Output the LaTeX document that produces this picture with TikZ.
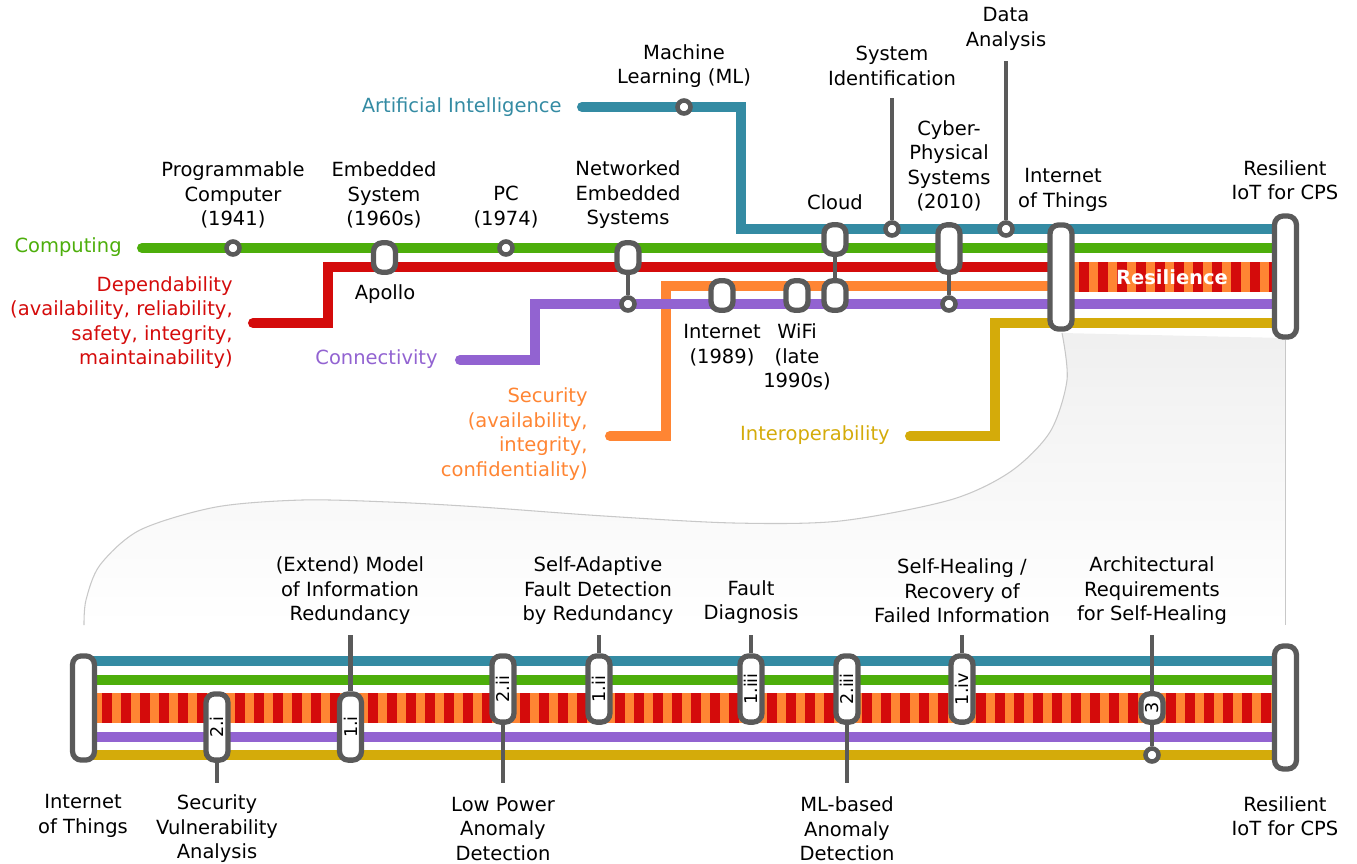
\documentclass[tikz,border=0pt]{standalone}
\usepackage{fontspec}
\setmainfont{DejaVu Sans}
\usepackage{graphicx}
\usepackage{xcolor}
\usepackage{tikz}
\usetikzlibrary{calc}
\pgfdeclarelayer{bg}
\pgfsetlayers{bg,main}
\definecolor{aicol}{HTML}{348BA3}
\definecolor{compcol}{HTML}{4DAE0B}
\definecolor{depcol}{HTML}{D40B0B}
\definecolor{seccol}{HTML}{FF8533}
\definecolor{conncol}{HTML}{9263D1}
\definecolor{interopcol}{HTML}{D4AB0A}
\definecolor{stopcol}{HTML}{5A5A5A}
\definecolor{funnelcol}{HTML}{C8C8C8}
\tikzset{
  track/.style={line width=5.7pt,line cap=round,line join=miter},
  capsule/.style={draw=stopcol,line width=3pt,fill=white,rounded corners=5pt,inner sep=0pt,minimum width=12.5pt,minimum height=#1},
  capsule/.default=16.8pt,
  stopdot/.style={circle,draw=stopcol,line width=2.6pt,fill=white,inner sep=0pt,minimum size=7.4pt},
  link/.style={draw=stopcol,line width=2.5pt},
  lbl/.style={align=center,inner sep=0pt},
  linelbl/.style={align=right,inner sep=0pt,anchor=east},
  captext/.style={font=\fontsize{10}{12}\selectfont}
}
\begin{document}
\begin{tikzpicture}[x=0.02cm,y=-0.02cm,font=\fontsize{11.1}{13.9}\selectfont]
\useasboundingbox (0,0) rectangle (1357,863);

\node[stopdot] (prog) at (233,248) {};
\node[capsule] (emb) at (384.5,257.5) {};
\node[stopdot] (pc) at (506,248) {};
\node[capsule] (nes) at (628,257.5) {};
\node[stopdot] (nesdot) at (628,304) {};
\node[stopdot] (mldot) at (684,107) {};
\node[capsule] (inet) at (722,295.5) {};
\node[capsule] (wifi) at (797,295.5) {};
\node[capsule] (cloudA) at (835,239.5) {};
\node[capsule] (cloudB) at (835,295.5) {};
\node[stopdot] (sysid) at (892,229) {};
\node[capsule=26.9pt] (cps) at (949,248.5) {};
\node[stopdot] (cpsdot) at (949,304) {};
\node[stopdot] (data) at (1006,229) {};
\node[capsule=59.3pt] (iot1) at (1061,277) {};
\node[capsule=68.9pt] (res1) at (1285.5,276.5) {};

\node[capsule=59.3pt] (iot2) at (83.5,708) {};
\node[capsule=70pt] (res2) at (1285.5,707.5) {};
\node[capsule=37.7pt,captext] (m2i) at (217,727) {\rotatebox{90}{2.i}};
\node[capsule=37.7pt,captext] (m1i) at (350.5,727) {\rotatebox{90}{1.i}};
\node[capsule=37.7pt,captext] (m2ii) at (503,689) {\rotatebox{90}{2.ii}};
\node[capsule=37.7pt,captext] (m1ii) at (599,689) {\rotatebox{90}{1.ii}};
\node[capsule=37.7pt,captext] (m1iii) at (751,689) {\rotatebox{90}{1.iii}};
\node[capsule=37.7pt,captext] (m2iii) at (847,689) {\rotatebox{90}{2.iii}};
\node[capsule=37.7pt,captext] (m1iv) at (962,689) {\rotatebox{90}{1.iv}};
\node[capsule=16.2pt,captext] (m3) at (1152,708) {\rotatebox{90}{3}};
\node[stopdot] (m3dot) at (1152,755) {};

\coordinate (ai-start) at (582,107);
\coordinate (ai-bend) at (741,229);
\coordinate (comp-start) at (142,248);
\coordinate (dep-start) at (253,323);
\coordinate (dep-bend) at (328,267);
\coordinate (sec-start) at (610,436);
\coordinate (sec-bend) at (666,286);
\coordinate (conn-start) at (460,360);
\coordinate (conn-bend) at (535,304);
\coordinate (int-start) at (910,436);
\coordinate (int-bend) at (995,323);
\coordinate (bt-ai) at (83,661);
\coordinate (bt-comp) at (83,680);
\coordinate (bt-conn) at (83,737);
\coordinate (bt-int) at (83,755);
\coordinate (sysid-top) at (892,98);
\coordinate (data-top) at (1006,61);
\coordinate (m1i-top) at (350.5,635);
\coordinate (m1ii-top) at (599,635);
\coordinate (m1iii-top) at (751,635);
\coordinate (m1iv-top) at (962,635);
\coordinate (m3-top) at (1152,635);
\coordinate (m2i-end) at (217,783);
\coordinate (m2ii-end) at (503,783);
\coordinate (m2iii-end) at (847,783);

\begin{pgfonlayer}{bg}
\shade[top color=black!6,bottom color=white] plot[smooth] coordinates {(1062,333) (1067,380) (1050,432) (1010,472) (950,500) (840,521) (734,523) (604,516) (480,507) (389,502) (302,500) (216,507) (140,530) (100,565) (86,600) (84,625)} -- (1285,625) -- (1285,338) -- cycle;
\draw[funnelcol,line width=0.6pt] plot[smooth] coordinates {(1062,333) (1067,380) (1050,432) (1010,472) (950,500) (840,521) (734,523) (604,516) (480,507) (389,502) (302,500) (216,507) (140,530) (100,565) (86,600) (84,625)};
\draw[funnelcol,line width=0.6pt] (res1.south) -- (1285.5,625);

\draw[track,aicol] (ai-start) -| (ai-bend) -- (ai-bend -| res1);
\draw[track,compcol] (comp-start) -- (comp-start -| res1);
\draw[track,depcol] (dep-start) -| (dep-bend) -- (dep-bend -| iot1);
\draw[track,seccol] (sec-start) -| (sec-bend) -- (sec-bend -| iot1);
\draw[track,conncol] (conn-start) -| (conn-bend) -- (conn-bend -| res1);
\draw[track,interopcol] (int-start) -| (int-bend) -- (int-bend -| res1);
\fill[seccol] (1061,262) rectangle (1285,292);
\foreach \sx in {1079,1098,...,1269} \fill[depcol] (\sx,262) rectangle ++(10,30);

\draw[track,aicol] (bt-ai) -- (bt-ai -| res2);
\draw[track,compcol] (bt-comp) -- (bt-comp -| res2);
\draw[track,conncol] (bt-conn) -- (bt-conn -| res2);
\draw[track,interopcol] (bt-int) -- (bt-int -| res2);
\fill[seccol] (83,693) rectangle (1285,723);
\foreach \sx in {102,121,...,1262} \fill[depcol] (\sx,693) rectangle ++(10,30);
\end{pgfonlayer}

\node[text=white,font=\fontsize{11.1}{13.9}\selectfont\bfseries] (resil-txt) at (1172,277) {Resilience};

\draw[link] (nes.south) -- (nesdot.north);
\draw[link] (cloudA.south) -- (cloudB.north);
\draw[link] (cps.south) -- (cpsdot.north);
\draw[link] (sysid-top) -- (sysid.north);
\draw[link] (data-top) -- (data.north);
\draw[link] (m1i-top) -- (m1i.north);
\draw[link] (m1ii-top) -- (m1ii.north);
\draw[link] (m1iii-top) -- (m1iii.north);
\draw[link] (m1iv-top) -- (m1iv.north);
\draw[link] (m3-top) -- (m3.north);
\draw[link] (m3.south) -- (m3dot.north);
\draw[link] (m2i.south) -- (m2i-end);
\draw[link] (m2ii.south) -- (m2ii-end);
\draw[link] (m2iii.south) -- (m2iii-end);

\node[linelbl,text=aicol] (ai-lbl) at (562,107) {Artificial Intelligence};
\node[linelbl,text=compcol] (comp-lbl) at (122,247) {Computing};
\node[linelbl,text=depcol] (dep-lbl) at (233,322.5) {Dependability\\(availability, reliability,\\safety, integrity,\\maintainability)};
\node[linelbl,text=conncol] (conn-lbl) at (438,359) {Connectivity};
\node[linelbl,text=seccol] (sec-lbl) at (588,434) {Security\\(availability,\\integrity,\\confidentiality)};
\node[linelbl,text=interopcol] (int-lbl) at (890,435) {Interoperability};

\node[lbl] (prog-lbl) at (233,195) {Programmable\\Computer\\(1941)};
\node[lbl] (emb-lbl) at (384,195) {Embedded\\System\\(1960s)};
\node[lbl] (apollo-lbl) at (385,294) {Apollo};
\node[lbl] (pc-lbl) at (506,207) {PC\\(1974)};
\node[lbl] (nes-lbl) at (628,195) {Networked\\Embedded\\Systems};
\node[lbl] (ml-lbl) at (684,66) {Machine\\Learning (ML)};
\node[lbl] (inet-lbl) at (722,345) {Internet\\(1989)};
\node[lbl] (wifi-lbl) at (797,357) {WiFi\\(late\\1990s)};
\node[lbl] (cloud-lbl) at (835,202) {Cloud};
\node[lbl] (sysid-lbl) at (892,66) {System\\Identification};
\node[lbl] (cps-lbl) at (949,166) {Cyber-\\Physical\\Systems\\(2010)};
\node[lbl] (data-lbl) at (1006,29) {Data\\Analysis};
\node[lbl] (iot1-lbl) at (1063,190) {Internet\\of Things};
\node[lbl] (res1-lbl) at (1285,180) {Resilient\\IoT for CPS};

\node[lbl] (m1i-lbl) at (350,591) {(Extend) Model\\of Information\\Redundancy};
\node[lbl] (m1ii-lbl) at (598,591) {Self-Adaptive\\Fault Detection\\by Redundancy};
\node[lbl] (m1iii-lbl) at (751,602) {Fault\\Diagnosis};
\node[lbl] (m1iv-lbl) at (962,591) {Self-Healing /\\Recovery of\\Failed Information};
\node[lbl] (m3-lbl) at (1152,591) {Architectural\\Requirements\\for Self-Healing};
\node[lbl] (iot2-lbl) at (83,816) {Internet\\of Things};
\node[lbl] (m2i-lbl) at (217,829) {Security\\Vulnerability\\Analysis};
\node[lbl] (m2ii-lbl) at (503,829) {Low Power\\Anomaly\\Detection};
\node[lbl] (m2iii-lbl) at (847,829) {ML-based\\Anomaly\\Detection};
\node[lbl] (res2-lbl) at (1285,816) {Resilient\\IoT for CPS};
\end{tikzpicture}
\end{document}
